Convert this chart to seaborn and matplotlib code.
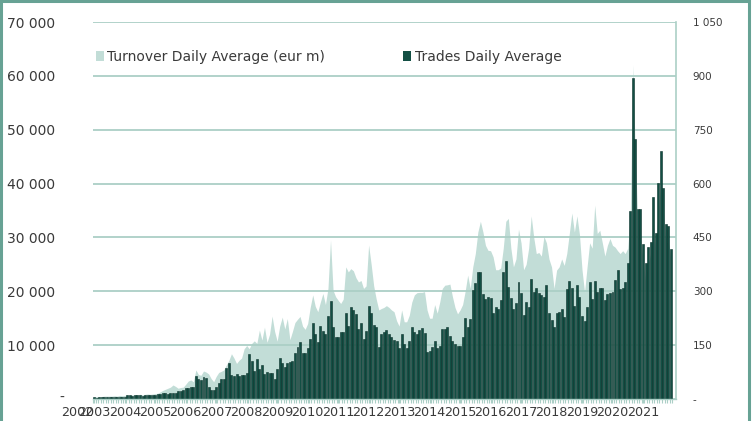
import numpy as np
import matplotlib
matplotlib.use("Agg")
import matplotlib.pyplot as plt
from matplotlib.patches import Patch, Rectangle
from matplotlib.transforms import ScaledTranslation
import seaborn as sns

# ---- data (monthly) ----
years = ['2002', '2003', '2004', '2005', '2006', '2007', '2008', '2009', '2010', '2011',
         '2012', '2013', '2014', '2015', '2016', '2017', '2018', '2019', '2020', '2021']

# Trades daily average (left axis)
trades = [
    300, 250, 300, 350, 300, 300, 350, 400, 350, 400, 450, 400, 450, 700, 650, 600, 650, 700, 650, 600,
    650, 700, 700, 750, 800, 900, 1000, 1100, 1050, 1000, 1150, 1200, 1100, 1500, 1400, 1600, 2000, 2100,
    2300, 2200, 4300, 3800, 3600, 4000,
    3840, 2290, 1670, 1670, 2170, 3030, 3650, 3650, 5820, 6750, 4460, 4270, 4580, 4270, 4460, 4460,
    4890, 8290, 7060, 5200, 7430, 5570, 6310, 4640, 5080, 4770, 4770, 3650, 5570, 7550, 6750, 6000,
    6620, 6900, 7060, 8480, 9720, 10650, 8480, 8600, 9410, 11080, 14050, 12070, 10650, 13620, 12630,
    12070, 15480, 18200, 13310, 11510, 11510, 12380, 12380, 15910, 13560, 17080, 16470, 15780, 13000,
    14180, 11200, 12630, 17210, 16030, 13740, 13370, 9720, 12010, 12380, 12750, 12010, 11450, 10890,
    10830, 9530, 12010, 10210, 9470, 10770, 13370, 12440, 12070, 12750, 13120, 12320, 8730, 8980,
    9660, 10770, 9410,
    9840, 12940, 13060, 13310, 11700, 10770, 10280, 9840, 9840, 11510, 14980, 13430, 14790, 20240,
    21600, 23580, 23580, 19500, 18570, 18880, 18690, 15910, 17080, 16710, 18380, 23650, 25690, 20800,
    18690, 16650, 17800, 21790, 19620, 15600, 18010, 17020, 22220, 19930, 20670, 19620, 19310, 19000,
    21170, 15970, 14730, 13370,
    16030, 16220, 16650, 15170, 20360, 21910, 20550, 17270, 21170, 19000, 15410, 14480, 17020, 21670,
    18510, 21910, 19810, 20550, 20550, 18380, 19500, 19620, 19810, 22100, 23950, 20360, 20550, 21670,
    25320, 34910, 59550, 48280, 35280, 35280, 28780, 25190, 28290, 29220, 37450, 30760, 40170, 46120,
    39120, 32440, 32130, 27790,
]

# Turnover daily average, eur m (right axis)
turnover = [
    6, 7, 6, 7, 8, 8, 8, 8, 9, 8, 10, 9, 10, 11, 10, 12, 11, 12, 13, 12,
    13, 14, 13, 14, 15, 16, 20, 24, 27, 30, 33, 39, 35, 30, 32, 33, 41, 50, 53, 48,
    81, 68, 66, 78,
    75, 70, 57, 48, 63, 74, 77, 81, 95, 108, 126, 114, 99, 108, 114, 140, 149, 140, 155, 162,
    155, 192, 164, 200, 158, 180, 231, 188, 161, 203, 228, 195, 224, 165, 188, 213, 222, 230, 203, 194,
    210, 255, 290, 258, 243, 270, 294,
    263, 308, 443, 303, 285, 275, 266, 278, 368, 354, 363, 357, 338, 326, 330, 308, 315, 429, 375, 315,
    278, 248, 252, 255, 260, 255, 248, 243, 218, 203, 248, 215, 215, 233, 270, 290, 296, 297, 297, 299,
    248, 225, 225, 263, 239,
    270, 308, 317, 318, 320, 285, 255, 237, 248, 263, 300, 345, 308, 368, 405, 465, 495, 465, 428, 414,
    413, 396, 360, 360, 365, 420, 495, 503, 420, 368, 390, 473, 435, 360, 375, 420, 510, 450, 405, 408,
    398, 453, 435, 390, 368, 308,
    359, 368, 390, 372, 405, 461, 518, 465, 510, 458, 360, 297, 368, 435, 420, 540, 461, 470, 435, 398,
    428, 447, 428, 423, 413, 405, 413, 405, 420, 510, 930, 675, 495, 450, 390, 330, 375, 405, 495, 420,
    525, 600, 525, 435, 435, 390,
]

series_names = ['Turnover Daily Average (eur m)', 'Trades Daily Average']
left_ticks = [0, 10000, 20000, 30000, 40000, 50000, 60000, 70000]
right_ticks = [0, 150, 300, 450, 600, 750, 900, 1050]

# ---- style ----
LIGHT = '#c2ddd7'
DARK = '#134f44'
EDGE = '#0a3029'
GRID = '#abcfc6'
TXT = '#3a3a3a'

def fmt(v):
    return '-' if v == 0 else f'{v:,}'.replace(',', ' ')

n = len(trades)
idx = np.arange(n)

fig = plt.figure(figsize=(7.54, 4.21), dpi=100)
ax = fig.add_axes([93 / 754, 22 / 421, 583 / 754, 377 / 421])
ax2 = ax.twinx()

ax2.fill_between(idx, turnover, 0, color=LIGHT, linewidth=0)
ax2.set_ylim(0, 1050)

ax.set_zorder(ax2.get_zorder() + 1)
ax.patch.set_visible(False)

sns.barplot(x=idx, y=trades, ax=ax, color=DARK, saturation=1, width=0.78,
            edgecolor=EDGE, linewidth=0.4, errorbar=None)

ax.set_ylim(0, 70000)
ax.set_xlim(-0.5, n + 1.0)
ax2.set_xlim(-0.5, n + 1.0)

# grid
ax.set_axisbelow(True)
ax.yaxis.grid(True, color=GRID, linewidth=1.3)
ax.xaxis.grid(False)

# left y labels
ax.set_yticks(left_ticks)
ax.set_yticklabels([fmt(v) for v in left_ticks], fontsize=10, color=TXT)
ax.tick_params(axis='y', length=0, pad=27)
zero_lbl = ax.get_yticklabels()[0]
zero_lbl.set_transform(zero_lbl.get_transform() + ScaledTranslation(6 / 72, 2 / 72, fig.dpi_scale_trans))

# right y labels
ax2.set_yticks(right_ticks)
ax2.set_yticklabels([fmt(v) for v in right_ticks], fontsize=7.5, color=TXT)
ax2.tick_params(axis='y', length=0, pad=12)

# x labels
pos = [-0.5] + [12 * k for k in range(len(years) - 1)]
ax.set_xticks(pos)
ax.set_xticklabels(years, fontsize=9.2, color=TXT)
ax.get_xticklabels()[0].set_ha('right')
ax.set_xticks(np.arange(-0.5, n, 1), minor=True)
ax.tick_params(axis='x', which='major', length=3, color=GRID, pad=2)
ax.tick_params(axis='x', which='minor', length=3, color=GRID, width=0.8)
ax.set_xlabel('')
ax.set_ylabel('')

for a in (ax, ax2):
    for s in ('top', 'left'):
        a.spines[s].set_visible(False)
ax.spines['right'].set_visible(False)
ax2.spines['bottom'].set_visible(False)
ax.spines['bottom'].set_color(GRID)
ax.spines['bottom'].set_linewidth(1)
ax2.spines['right'].set_color(GRID)
ax2.spines['right'].set_linewidth(1.2)

handles = [Patch(facecolor=LIGHT, edgecolor='none'), Patch(facecolor=DARK, edgecolor='none')]
ax.legend(handles, series_names, ncol=2, loc='center left', bbox_to_anchor=(-0.005, 0.907),
          frameon=False, fontsize=10, handlelength=0.6, handleheight=0.75, handletextpad=0.25,
          columnspacing=5.6, labelcolor=TXT, borderaxespad=0)

fig.patches.append(Rectangle((1 / 754, -0.01), 748 / 754, 1.0 - 1 / 421 + 0.01,
                             transform=fig.transFigure, fill=False, edgecolor='#67a294',
                             linewidth=2.2, clip_on=False))

fig.savefig('out.png', dpi=100)
